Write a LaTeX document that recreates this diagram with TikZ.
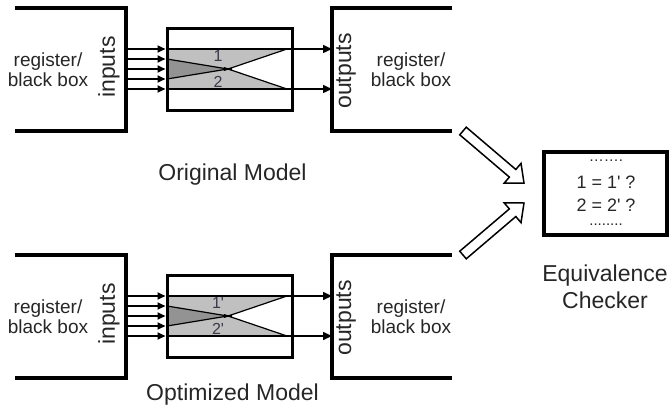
\documentclass[tikz,border=0pt]{standalone}
\usepackage{fontspec}
\setmainfont{Liberation Sans}
\usetikzlibrary{arrows.meta,calc}
\definecolor{txt}{HTML}{262626}
\definecolor{numc}{HTML}{3A3A48}
\definecolor{lgray}{HTML}{C0C0C0}
\definecolor{dgray}{HTML}{939393}
\begin{document}
\begin{tikzpicture}[x=1pt,y=-1pt,
  reg/.style={line width=3.3pt,line cap=butt,line join=miter},
  mbox/.style={draw,line width=3pt,inner sep=0pt,minimum width=125pt,minimum height=82pt},
  inarrow/.style={line width=1.8pt,-{Triangle[length=8pt,width=7pt]}},
  outarrow/.style={line width=1.5pt,-{Triangle[length=9pt,width=8pt]}},
  thinline/.style={line width=1.2pt},
  regtext/.style={font=\fontsize{19}{20}\selectfont,text=txt,align=center,inner sep=0pt},
  iotext/.style={font=\fontsize{23}{24}\selectfont,text=txt,rotate=90,inner sep=0pt},
  numtext/.style={font=\fontsize{16}{17}\selectfont,text=numc,inner sep=0pt},
  title/.style={font=\fontsize{23}{24}\selectfont,text=txt,inner sep=0pt,anchor=base},
  chktext/.style={font=\fontsize{18}{19}\selectfont,text=txt,inner sep=0pt},
  dottext/.style={font=\fontsize{15}{16}\selectfont,text=txt,inner sep=0pt},
  hollow/.style={draw,fill=white,line width=1.5pt,line join=miter}]
\useasboundingbox (0,0) rectangle (670,405);

\foreach \s/\off/\a/\b in {o/0/1/2,p/247/1\textquotesingle/2\textquotesingle}{
\begin{scope}[shift={(0,\off)}]
  % registers
  \draw[reg] (15,8) -- (126,8) -- (126,131) -- (15,131);
  \draw[reg] (452,8) -- (332,8) -- (332,131) -- (452,131);
  \node[regtext] (\s-lreg) at (48,70) {register/\\black box};
  \node[regtext] (\s-rreg) at (411,70) {register/\\black box};
  \node[iotext] (\s-in) at (109,67) {inputs};
  \node[iotext] (\s-out) at (346,71) {outputs};
  % logic box fills
  \fill[lgray] (167,49) -- (287,49) -- (228,69) -- (167,59) -- cycle;
  \fill[dgray] (167,59) -- (228,69) -- (167,79) -- cycle;
  \fill[lgray] (167,79) -- (228,69) -- (287,89) -- (167,89) -- cycle;
  \draw[thinline] (167,59) -- (232,69.7);
  \draw[thinline] (167,79) -- (232,68.3);
  \draw[thinline] (287,49) -- (224,70.4);
  \draw[thinline] (287,89) -- (224,67.6);
  \draw[thinline] (167,49) -- (292,49);
  \draw[thinline] (167,89) -- (292,89);
  \node[mbox] (\s-mid) at (229.5,69) {};
  \node[numtext] (\s-n1) at (218,56) {\a};
  \node[numtext] (\s-n2) at (218,82) {\b};
  % input arrows
  \foreach \y [count=\i] in {49,59,69,79,89}{
    \coordinate (\s-i\i) at (126,\y);
    \draw[inarrow] (\s-i\i) -- (\s-mid.west |- \s-i\i);
  }
  % output arrows
  \coordinate (\s-o1) at (332,49);
  \coordinate (\s-o2) at (332,89);
  \draw[outarrow] (\s-mid.east |- \s-o1) -- (\s-o1);
  \draw[outarrow] (\s-mid.east |- \s-o2) -- (\s-o2);
\end{scope}
}

\node[title] (ot) at (232.5,180) {Original Model};
\node[title] (pt) at (232.5,400) {Optimized Model};

% equivalence checker
\node[draw,line width=3.5pt,minimum width=123pt,minimum height=83pt,inner sep=0pt] (chk) at (605.5,193.5) {};
\node[dottext] (d1) at (606,161) {…….};
\node[chktext] (e1) at (606,182) {1 = 1\textquotesingle\ ?};
\node[chktext] (e2) at (606,205) {2 = 2\textquotesingle\ ?};
\node[dottext] (d2) at (606,225) {........};
\node[font=\fontsize{23}{27}\selectfont,text=txt,align=center,inner sep=0pt] (chkl) at (605,287) {Equivalence\\Checker};

% hollow arrows
\coordinate (t1) at (463,131); \coordinate (p1) at (524,183);
\coordinate (b1) at ($(p1)!15pt!(t1)$);
\draw[hollow] ($(t1)!5pt!90:(p1)$) -- ($(b1)!5pt!90:(p1)$) -- ($(b1)!13pt!90:(p1)$) -- (p1)
  -- ($(b1)!13pt!-90:(p1)$) -- ($(b1)!5pt!-90:(p1)$) -- ($(t1)!5pt!-90:(p1)$) -- cycle;
\coordinate (t2) at (463,255); \coordinate (p2) at (524,203);
\coordinate (b2) at ($(p2)!15pt!(t2)$);
\draw[hollow] ($(t2)!5pt!90:(p2)$) -- ($(b2)!5pt!90:(p2)$) -- ($(b2)!13pt!90:(p2)$) -- (p2)
  -- ($(b2)!13pt!-90:(p2)$) -- ($(b2)!5pt!-90:(p2)$) -- ($(t2)!5pt!-90:(p2)$) -- cycle;
\end{tikzpicture}
\end{document}
